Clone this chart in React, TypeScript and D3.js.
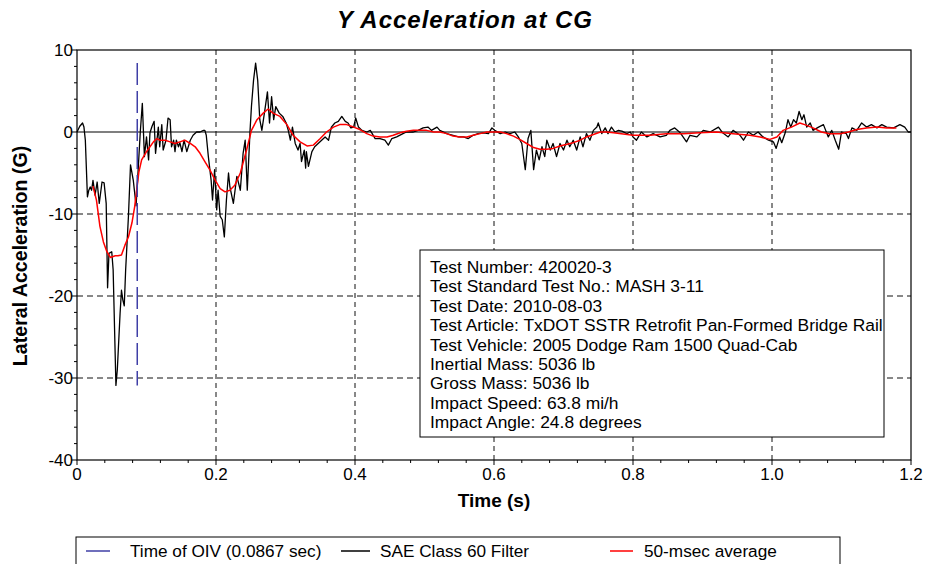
import React from "react";
import * as d3 from "d3";

// ---- Data ----
// SAE Class 60 filtered lateral acceleration: time (s), acceleration (G)
const sae60Time: number[] = [
  0.000, 0.004, 0.008, 0.010, 0.012, 0.015, 0.017, 0.019, 0.021, 0.023, 0.026, 0.029, 0.032, 0.036, 0.039, 0.042,
  0.044, 0.046, 0.050, 0.052, 0.056, 0.058, 0.062, 0.064, 0.066, 0.068, 0.070, 0.074, 0.077, 0.081, 0.085, 0.088,
  0.091, 0.094, 0.097, 0.100, 0.103, 0.105, 0.108, 0.111, 0.113, 0.117, 0.119, 0.122, 0.124, 0.128, 0.131, 0.134,
  0.136, 0.139, 0.141, 0.143, 0.146, 0.148, 0.151, 0.154, 0.158, 0.163, 0.167, 0.172, 0.177, 0.182, 0.184, 0.186,
  0.189, 0.193, 0.195, 0.198, 0.201, 0.203, 0.206, 0.209, 0.212, 0.215, 0.218, 0.220, 0.225, 0.230, 0.235, 0.239,
  0.242, 0.245, 0.249, 0.251, 0.254, 0.257, 0.260, 0.263, 0.266, 0.271, 0.274, 0.277, 0.280, 0.283, 0.286, 0.291,
  0.296, 0.301, 0.304, 0.307, 0.310, 0.314, 0.318, 0.321, 0.323, 0.327, 0.329, 0.330, 0.333, 0.338, 0.342, 0.347,
  0.352, 0.357, 0.362, 0.366, 0.371, 0.376, 0.381, 0.386, 0.390, 0.394, 0.398, 0.401, 0.405, 0.410, 0.417, 0.422,
  0.429, 0.436, 0.443, 0.448, 0.453, 0.460, 0.469, 0.474, 0.484, 0.491, 0.498, 0.505, 0.510, 0.518, 0.522, 0.532,
  0.541, 0.549, 0.556, 0.563, 0.570, 0.577, 0.585, 0.592, 0.597, 0.601, 0.609, 0.616, 0.623, 0.630, 0.635, 0.640,
  0.645, 0.649, 0.653, 0.657, 0.661, 0.665, 0.669, 0.673, 0.676, 0.681, 0.685, 0.690, 0.695, 0.700, 0.705, 0.709,
  0.714, 0.719, 0.724, 0.728, 0.733, 0.738, 0.743, 0.748, 0.750, 0.755, 0.760, 0.764, 0.769, 0.774, 0.779, 0.784,
  0.791, 0.796, 0.800, 0.805, 0.812, 0.820, 0.829, 0.839, 0.848, 0.853, 0.860, 0.868, 0.877, 0.882, 0.892, 0.901,
  0.911, 0.923, 0.929, 0.937, 0.944, 0.954, 0.959, 0.966, 0.973, 0.980, 0.987, 0.995, 1.002, 1.006, 1.011, 1.014,
  1.019, 1.023, 1.027, 1.031, 1.035, 1.039, 1.043, 1.046, 1.050, 1.055, 1.059, 1.067, 1.074, 1.081, 1.086, 1.091,
  1.096, 1.100, 1.107, 1.110, 1.115, 1.122, 1.129, 1.136, 1.143, 1.151, 1.158, 1.165, 1.175, 1.184, 1.191, 1.196,
  1.200,
];
const sae60Accel: number[] = [
  0.0, 0.7, 1.1, 0.6, -1.0, -7.9, -7.1, -6.7, -7.1, -5.9, -7.7, -6.1, -8.7, -6.1, -6.2, -8.7,
  -19.0, -14.8, -14.6, -16.8, -30.9, -29.0, -22.1, -19.3, -20.5, -21.2, -16.8, -10.3, -4.0, -5.9, -9.0, -4.6,
  -0.1, 3.5, -3.0, -0.6, -3.4, -0.1, 0.7, 1.3, -2.6, 0.6, -1.8, 0.9, -2.2, -1.0, 1.7, 1.5,
  -1.8, -1.0, -2.4, -1.0, -1.8, -1.3, -2.4, -1.0, -2.4, -1.0, -0.4, 0.0, 0.0, 0.2, 0.2, -0.4,
  -3.0, -5.9, -8.3, -4.6, -9.5, -7.1, -10.3, -10.7, -12.8, -8.3, -5.0, -6.7, -8.7, -5.4, -7.1, -2.6,
  -1.0, -7.1, 0.2, 3.1, 6.3, 8.4, 6.3, 1.5, 0.2, 3.1, 4.9, 1.1, 4.3, 1.5, 3.1, 2.3,
  1.9, 1.1, 0.2, -1.0, 0.6, -1.4, -2.2, -1.4, -3.6, -2.2, -4.4, -2.4, -4.2, -2.4, -1.8, -1.4,
  -1.0, -0.6, -1.0, 0.6, 1.1, 1.3, 1.9, 1.3, 1.1, 0.5, 0.6, 1.7, 0.6, 0.2, 0.0, 0.2,
  -0.8, -0.8, -1.0, -1.6, -0.8, -0.6, -0.2, 0.0, 0.0, 0.2, 0.5, 0.6, 0.2, 0.6, 0.2, -0.2,
  -0.4, -0.6, -0.6, -0.8, -0.4, -0.2, -0.1, -0.2, 0.5, 0.2, -0.2, 0.0, -0.2, 0.0, -0.6, -1.4,
  -4.6, -0.8, 0.2, -4.6, -2.2, -3.4, -1.8, -3.0, -1.0, -2.2, -1.4, -3.0, -1.4, -2.2, -1.0, -1.8,
  -1.0, -2.2, -0.6, -1.8, -0.2, -1.0, 0.2, 0.6, 1.1, -0.2, 0.5, -0.2, 0.6, 0.0, 0.2, 0.1,
  -0.2, 0.0, -0.6, -1.0, 0.0, -0.6, -0.2, -0.6, -0.4, 0.2, 0.5, -0.1, -1.2, -0.4, -0.6, 0.2,
  0.0, 0.6, -0.1, -0.6, 0.2, -0.4, -1.0, 0.0, -0.4, 0.0, -0.6, -1.0, -1.2, -2.0, -0.6, -1.3,
  -0.1, 1.5, 0.6, 1.5, 1.1, 2.5, 1.5, 2.1, 0.6, 1.1, 0.2, 0.6, 0.9, -0.6, 0.2, -1.0,
  -2.1, 0.0, -0.2, -0.8, 0.5, 0.2, 1.1, 0.6, 0.9, 0.5, 0.9, 0.6, 0.5, 0.9, 0.6, 0.0,
  0.0,
];

// 50-msec moving average: time (s), acceleration (G)
const avg50Time: number[] = [
  0.023, 0.028, 0.033, 0.038, 0.043, 0.048, 0.055, 0.059, 0.064, 0.069, 0.074, 0.079, 0.083, 0.087, 0.089, 0.093,
  0.100, 0.105, 0.110, 0.115, 0.119, 0.127, 0.134, 0.141, 0.148, 0.155, 0.163, 0.170, 0.177, 0.184, 0.191, 0.199,
  0.206, 0.213, 0.220, 0.227, 0.235, 0.244, 0.251, 0.259, 0.268, 0.275, 0.282, 0.292, 0.302, 0.311, 0.321, 0.331,
  0.340, 0.350, 0.359, 0.369, 0.378, 0.388, 0.398, 0.407, 0.417, 0.426, 0.436, 0.446, 0.455, 0.465, 0.474, 0.484,
  0.494, 0.503, 0.513, 0.522, 0.532, 0.541, 0.551, 0.561, 0.570, 0.580, 0.590, 0.599, 0.609, 0.618, 0.628, 0.637,
  0.647, 0.657, 0.666, 0.676, 0.685, 0.695, 0.705, 0.714, 0.724, 0.733, 0.743, 0.753, 0.762, 0.772, 0.800, 0.824,
  0.848, 0.872, 0.896, 0.920, 0.944, 0.968, 0.983, 0.997, 1.007, 1.016, 1.028, 1.040, 1.047, 1.059, 1.071, 1.083,
  1.098, 1.110, 1.122, 1.136, 1.151, 1.165, 1.179,
];
const avg50Accel: number[] = [
  -6.6, -8.3, -11.5, -13.4, -14.6, -15.3, -15.1, -15.1, -15.0, -13.8, -12.8, -11.1, -9.1, -6.3, -4.9, -3.4,
  -2.4, -1.8, -1.2, -0.8, -1.0, -1.0, -1.2, -1.4, -1.2, -1.0, -1.4, -1.8, -2.6, -3.6, -4.6, -5.9,
  -6.9, -7.3, -7.1, -6.5, -5.0, -2.2, 0.2, 1.5, 2.3, 2.8, 2.3, 1.9, 0.9, -0.4, -1.2, -1.7,
  -1.6, -0.8, 0.0, 0.6, 0.9, 0.9, 0.6, 0.3, -0.2, -0.5, -0.6, -0.6, -0.4, -0.1, 0.1, 0.2,
  0.2, 0.2, 0.0, 0.0, -0.2, -0.5, -0.6, -0.6, -0.4, -0.2, 0.0, 0.0, 0.0, -0.2, -0.5, -0.9,
  -1.4, -1.9, -2.1, -2.1, -2.0, -1.7, -1.5, -1.3, -1.0, -0.6, -0.3, 0.0, 0.0, -0.1, -0.4, -0.4,
  -0.2, -0.2, -0.1, 0.0, -0.2, -0.4, -0.6, -0.9, -0.6, 0.2, 0.6, 1.1, 0.9, 0.5, 0.0, -0.2,
  -0.2, 0.0, 0.3, 0.5, 0.6, 0.5, 0.5,
];

const oivTime = 0.0867;

const xTickValues: number[] = [0, 0.2, 0.4, 0.6, 0.8, 1.0, 1.2];
const xTickLabels: string[] = ["0", "0.2", "0.4", "0.6", "0.8", "1.0", "1.2"];
const yTickValues: number[] = [10, 0, -10, -20, -30, -40];
const yTickLabels: string[] = ["10", "0", "-10", "-20", "-30", "-40"];
const xGridValues: number[] = [0.2, 0.4, 0.6, 0.8, 1.0];
const yGridValues: number[] = [-10, -20, -30];

const titleText = "Y Acceleration at CG";
const xAxisTitle = "Time (s)";
const yAxisTitle = "Lateral Acceleration (G)";

const infoLines: string[] = [
  "Test Number: 420020-3",
  "Test Standard Test No.: MASH 3-11",
  "Test Date: 2010-08-03",
  "Test Article: TxDOT SSTR Retrofit Pan-Formed Bridge Rail",
  "Test Vehicle: 2005 Dodge Ram 1500 Quad-Cab",
  "Inertial Mass: 5036 lb",
  "Gross Mass: 5036 lb",
  "Impact Speed: 63.8 mi/h",
  "Impact Angle: 24.8 degrees",
];

const legendLabels: string[] = ["Time of OIV (0.0867 sec)", "SAE Class 60 Filter", "50-msec average"];

// ---- Layout ----
const W = 930;
const H = 564;
const L = 77, R = 911, T = 50, B = 460;
const FONT = "'Liberation Sans', Arial, Helvetica, sans-serif";
const BLUE = "#3f3fa6";

export default function App() {
  const x = d3.scaleLinear().domain([0, 1.2]).range([L, R]);
  const y = d3.scaleLinear().domain([-40, 10]).range([B, T]);

  const saeData: [number, number][] = sae60Time.map((t, i) => [t, sae60Accel[i]]);
  const avgData: [number, number][] = avg50Time.map((t, i) => [t, avg50Accel[i]]);
  const line = d3
    .line<[number, number]>()
    .x((d) => x(d[0]))
    .y((d) => y(d[1]));

  const [gMin, gMax] = d3.extent(sae60Accel) as [number, number];

  const xMinor = d3.range(0, 1.2001, 0.04);
  const yMinor = d3.range(-40, 10.001, 2);

  const legendY = 551;
  const legendItems = [
    { color: BLUE, x1: 86, x2: 110, tx: 130, label: legendLabels[0] },
    { color: "#000", x1: 341, x2: 370, tx: 380, label: legendLabels[1] },
    { color: "#ff0000", x1: 610, x2: 633, tx: 644, label: legendLabels[2] },
  ];

  return (
    <svg
      width={W}
      height={H}
      viewBox={`0 0 ${W} ${H}`}
      style={{ position: "absolute", left: 0, top: 0, background: "#fff" }}
      fontFamily={FONT}
    >
      <rect x={0} y={0} width={W} height={H} fill="#fff" />

      {/* Title */}
      <text
        x={465}
        y={28}
        textAnchor="middle"
        fontSize={24}
        fontWeight="bold"
        fontStyle="italic"
        letterSpacing={1}
        fill="#000"
      >
        {titleText}
      </text>

      {/* Grid lines */}
      {xGridValues.map((v) => (
        <line key={"gx" + v} x1={x(v)} x2={x(v)} y1={T} y2={B} stroke="#111" strokeWidth={1} strokeDasharray="5,4" />
      ))}
      {yGridValues.map((v) => (
        <line key={"gy" + v} x1={L} x2={R} y1={y(v)} y2={y(v)} stroke="#111" strokeWidth={1} strokeDasharray="6,4" />
      ))}
      {/* Zero line */}
      <line x1={L} x2={R} y1={y(0)} y2={y(0)} stroke="#000" strokeWidth={1.2} />

      {/* Plot frame */}
      <rect x={L} y={T} width={R - L} height={B - T} fill="none" stroke="#000" strokeWidth={1.2} />

      {/* Minor and major ticks */}
      {xMinor.map((v, i) => {
        const major = i % 5 === 0;
        return (
          <line key={"tx" + i} x1={x(v)} x2={x(v)} y1={B} y2={B + (major ? 5 : 3)} stroke="#000" strokeWidth={1} />
        );
      })}
      {yMinor.map((v, i) => {
        const major = i % 5 === 0;
        return (
          <line key={"ty" + i} x1={L - (major ? 5 : 3)} x2={L} y1={y(v)} y2={y(v)} stroke="#000" strokeWidth={1} />
        );
      })}

      {/* Tick labels */}
      {xTickValues.map((v, i) => (
        <text key={"lx" + i} x={x(v)} y={480} textAnchor="middle" fontSize={17} fill="#000">
          {xTickLabels[i]}
        </text>
      ))}
      {yTickValues.map((v, i) => (
        <text key={"ly" + i} x={L - 4} y={y(v) + 6} textAnchor="end" fontSize={17} fill="#000">
          {yTickLabels[i]}
        </text>
      ))}

      {/* Axis titles */}
      <text x={494} y={507} textAnchor="middle" fontSize={19} fontWeight="bold" fill="#000">
        {xAxisTitle}
      </text>
      <text
        transform={`translate(27, ${256}) rotate(-90)`}
        textAnchor="middle"
        fontSize={19.6}
        fontWeight="bold"
        fill="#000"
      >
        {yAxisTitle}
      </text>

      {/* Data lines */}
      <path d={line(saeData) || ""} fill="none" stroke="#000" strokeWidth={1.3} strokeLinejoin="round" />
      <path d={line(avgData) || ""} fill="none" stroke="#ff0000" strokeWidth={1.5} strokeLinejoin="round" />

      {/* OIV marker */}
      <line
        x1={x(oivTime)}
        x2={x(oivTime)}
        y1={y(gMax)}
        y2={y(gMin)}
        stroke={BLUE}
        strokeWidth={1.5}
        strokeDasharray="22,6"
      />

      {/* Info box */}
      <rect x={420} y={250} width={464} height={187} fill="#fff" stroke="#000" strokeWidth={1} />
      {infoLines.map((s, i) => (
        <text key={"info" + i} x={430} y={273 + i * 19.4} fontSize={17.4} fill="#000">
          {s}
        </text>
      ))}

      {/* Legend */}
      <rect x={76} y={537} width={764} height={40} fill="#fff" stroke="#000" strokeWidth={1} />
      {legendItems.map((it, i) => (
        <g key={"leg" + i}>
          <line x1={it.x1} x2={it.x2} y1={legendY} y2={legendY} stroke={it.color} strokeWidth={1.5} />
          <text x={it.tx} y={legendY + 6} fontSize={17.2} fill="#000">
            {it.label}
          </text>
        </g>
      ))}
    </svg>
  );
}
